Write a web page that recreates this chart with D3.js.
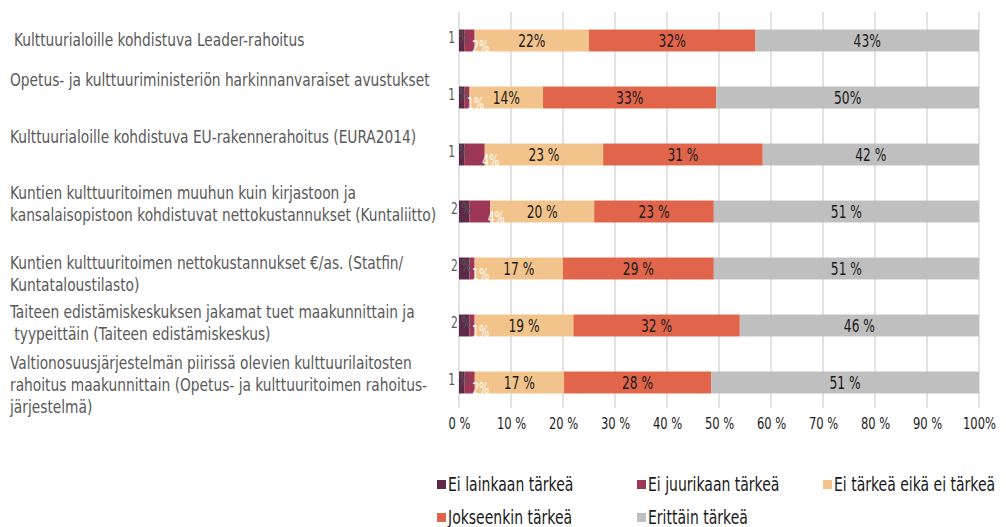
<!DOCTYPE html>
<html>
<head>
<meta charset="utf-8">
<script src="https://cdn.jsdelivr.net/npm/d3@7"></script>
<style>
  body { margin: 0; background: #fff; }
  svg text { font-family: "Liberation Sans Narrow", "DejaVu Sans Condensed", sans-serif; }
</style>
</head>
<body>
<svg id="chart"></svg>
<script>
// categories (rows, top to bottom), each split into lines
var rowLabels = [
  ["Kulttuurialoille kohdistuva Leader-rahoitus"],
  ["Opetus- ja kulttuuriministeriön harkinnanvaraiset avustukset"],
  ["Kulttuurialoille kohdistuva EU-rakennerahoitus (EURA2014)"],
  ["Kuntien kulttuuritoimen muuhun kuin kirjastoon ja", "kansalaisopistoon kohdistuvat nettokustannukset (Kuntaliitto)"],
  ["Kuntien kulttuuritoimen  nettokustannukset €/as. (Statfin/", "Kuntataloustilasto)"],
  ["Taiteen edistämiskeskuksen jakamat tuet maakunnittain ja", " tyypeittäin (Taiteen edistämiskeskus)"],
  ["Valtionosuusjärjestelmän piirissä olevien kulttuurilaitosten", "rahoitus maakunnittain (Opetus- ja kulttuuritoimen rahoitus-", "järjestelmä)"]
];

// series
var seriesNames = ["Ei lainkaan tärkeä", "Ei juurikaan tärkeä", "Ei tärkeä eikä ei tärkeä", "Jokseenkin tärkeä", "Erittäin tärkeä"];
var eiLainkaan   = [1, 1, 1, 2, 2, 2, 1];
var eiJuurikaan  = [2, 1, 4, 4, 1, 1, 2];
var neutraali    = [22, 14, 23, 20, 17, 19, 17];
var jokseenkin   = [32, 33, 31, 23, 29, 32, 28];
var erittain     = [43, 50, 42, 51, 51, 46, 51];

var xTicks = [0, 10, 20, 30, 40, 50, 60, 70, 80, 90, 100];
var xTickLabels = ["0 %", "10 %", "20 %", "30 %", "40 %", "50 %", "60 %", "70 %", "80 %", "90 %", "100%"];

// label style: first two rows written as "22%", the rest as "23 %"
var spacedPct = [false, false, true, true, true, true, true];

var colors = ["#5c2a48", "#9e3656", "#f2c48b", "#e0654a", "#bfbfbf"];

var width = 1006, height = 527;
var plotLeft = 459, plotRight = 979, plotTop = 12, plotBottom = 411;

// label block nudges to follow the original's placement
var labelShift = [-1, -18, -18, -8, 5, -3, 2];

// squeeze text horizontally to imitate the condensed original font
function condense(sel, f) {
  sel.each(function() {
    var w = this.getComputedTextLength();
    if (w > 0) {
      d3.select(this)
        .attr('textLength', w * f)
        .attr('lengthAdjust', 'spacingAndGlyphs');
    }
  });
}

var svg = d3.select('#chart')
  .attr('width', width)
  .attr('height', height);

var table = rowLabels.map((r, i) => ({
  i: i,
  values: [eiLainkaan[i], eiJuurikaan[i], neutraali[i], jokseenkin[i], erittain[i]]
}));

var stack = d3.stack()
  .keys([0, 1, 2, 3, 4])
  .value((d, k) => d.values[k])
  .offset(d3.stackOffsetExpand);
var layers = stack(table);

var xScale = d3.scaleLinear().domain([0, 100]).range([plotLeft, plotRight]);
var yScale = d3.scaleBand()
  .domain(d3.range(rowLabels.length))
  .range([plotTop, plotBottom])
  .paddingInner(0.615)
  .paddingOuter(0.3075);

// gridlines
svg.append('g')
  .selectAll('line')
  .data(xTicks)
  .enter()
  .append('line')
    .attr('x1', d => xScale(d))
    .attr('x2', d => xScale(d))
    .attr('y1', plotTop)
    .attr('y2', plotBottom - 3)
    .attr('stroke', '#d9d9d9')
    .attr('stroke-width', 1.5);

// x-axis labels
var xAxis = d3.axisBottom(xScale)
  .tickValues(xTicks)
  .tickFormat((d, i) => xTickLabels[i])
  .tickSize(0)
  .tickPadding(0);
var ax = svg.append('g')
  .attr('transform', 'translate(0,' + (plotBottom + 7) + ')')
  .call(xAxis);
ax.select('.domain').remove();
ax.selectAll('text')
  .attr('font-size', 16)
  .attr('fill', '#1a1a1a')
  .style('font-family', '"Liberation Sans Narrow", "DejaVu Sans Condensed", sans-serif')
  .call(condense, 0.8);

// bars
var bh = yScale.bandwidth();
svg.append('g')
  .selectAll('g')
  .data(layers)
  .enter()
  .append('g')
    .attr('fill', (d, k) => colors[k])
  .selectAll('rect')
  .data(d => d)
  .enter()
  .append('rect')
    .attr('x', d => xScale(d[0] * 100))
    .attr('width', d => xScale(d[1] * 100) - xScale(d[0] * 100))
    .attr('y', d => yScale(d.data.i))
    .attr('height', bh);

// value labels
layers.forEach((layer, k) => {
  svg.append('g')
    .selectAll('text')
    .data(layer)
    .enter()
    .append('text')
      .attr('font-size', k < 2 ? 15 : 17)
      .attr('text-anchor', 'middle')
      .attr('fill', k === 0 ? '#595959' : (k === 1 ? '#ffffff' : '#1a1a1a'))
      .attr('x', d => {
        var x0 = xScale(d[0] * 100), x1 = xScale(d[1] * 100);
        if (k === 0) return (x0 + x1) / 2 - 3;
        if (k === 1) return x1 + 6;
        return (x0 + x1) / 2;
      })
      .attr('y', d => {
        var c = yScale(d.data.i) + bh / 2;
        if (k === 0) return c + 2;
        if (k === 1) return c + 11;
        return c + 6;
      })
      .text(d => {
        var v = d.data.values[k];
        if (k === 0) return v + ' %';
        if (k === 1) return v + '%';
        return spacedPct[d.data.i] ? v + ' %' : v + '%';
      })
      .call(condense, 0.8);
});

// row labels
var lineH = 22;
rowLabels.forEach((lines, i) => {
  var c = yScale(i) + bh / 2 + labelShift[i];
  var y0 = c - (lines.length - 1) * lineH / 2;
  var t = svg.append('text')
    .attr('font-size', 17)
    .attr('fill', '#595959');
  lines.forEach((ln, j) => {
    t.append('tspan')
      .attr('x', i === 0 ? 14 : 10)
      .attr('y', y0 + j * lineH + 6)
      .text(ln)
      .call(condense, 0.9);
  });
});

// legend
var legendPos = [[437, 484], [637, 484], [823, 484], [437, 517], [637, 517]];
var lg = svg.append('g')
  .selectAll('g')
  .data(seriesNames)
  .enter()
  .append('g')
    .attr('transform', (d, k) => 'translate(' + legendPos[k][0] + ',' + legendPos[k][1] + ')');
lg.append('rect')
  .attr('x', 0)
  .attr('y', -4)
  .attr('width', 9)
  .attr('height', 9)
  .attr('fill', (d, k) => colors[k]);
lg.append('text')
  .attr('transform', 'translate(11,6.5) scale(0.82,1)')
  .attr('font-size', 19)
  .attr('fill', '#1a1a1a')
  .text(d => d);
</script>
</body>
</html>
